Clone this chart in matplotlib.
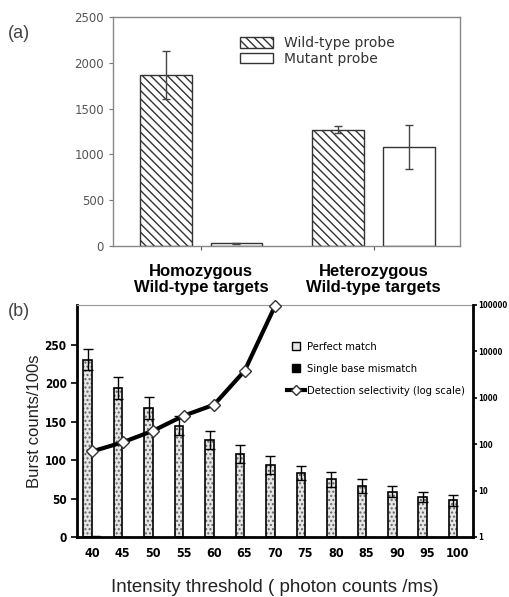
import matplotlib.pyplot as plt
from matplotlib.lines import Line2D
from matplotlib import font_manager
import numpy as np

# panel (a)
grupos_a = ['Homozygous\nWild-type targets', 'Heterozygous\nWild-type targets']
wt_probe = [1870, 1270]
wt_err = [260, 40]
mut_probe = [30, 1080]
mut_err = [8, 240]

# panel (b)
umbrales = [40, 45, 50, 55, 60, 65, 70, 75, 80, 85, 90, 95, 100]
perfect = [231, 194, 168, 145, 126, 108, 94, 83, 75, 66, 59, 52, 48]
perfect_err = [14, 14, 14, 12, 12, 12, 12, 9, 10, 9, 7, 7, 7]
mismatch = [1, 0, 0, 0, 0, 0, 0, 0, 0, 0, 0, 0, 0]
selectividad = [70, 110, 195, 410, 710, 3800, 95000]

W, H = 509, 597
fig = plt.figure(figsize=(W / 100, H / 100), dpi=100)
sans = ['Liberation Sans', 'DejaVu Sans']

def estrecha(size, bold=True):
    return font_manager.FontProperties(family='DejaVu Sans', stretch='condensed',
                                       weight='bold' if bold else 'normal',
                                       size=size)

# ---------- (a) ----------
ax1 = fig.add_axes([113 / W, 1 - 246 / H, (460 - 113) / W, (246 - 17) / H])
x = np.arange(len(grupos_a))
ax1.bar(x - 0.205, wt_probe, 0.30, color='white', edgecolor='#333333',
        hatch='\\\\\\\\', linewidth=1, label='Wild-type probe')
ax1.bar(x + 0.205, mut_probe, 0.30, color='white', edgecolor='#333333',
        linewidth=1, label='Mutant probe')
ax1.errorbar(x - 0.205, wt_probe, yerr=wt_err, fmt='none', ecolor='#444444',
             elinewidth=1, capsize=3)
ax1.errorbar(x + 0.205, mut_probe, yerr=mut_err, fmt='none', ecolor='#444444',
             elinewidth=1, capsize=3)
ax1.set_xlim(-0.51, 1.50)
ax1.set_ylim(0, 2500)
ax1.set_yticks(range(0, 2501, 500))
ax1.tick_params(axis='y', labelsize=8.5, labelcolor='#555555', color='#777777',
                length=3)
ax1.set_xticks(x)
ax1.set_xticklabels(grupos_a, fontsize=12, fontweight='bold', family=sans,
                    linespacing=1.1)
ax1.tick_params(axis='x', color='#555555', length=3, pad=10)
for s in ax1.spines.values():
    s.set_color('#888888')
    s.set_linewidth(1)
ax1.legend(loc='upper left', bbox_to_anchor=(0.33, 0.97), frameon=False,
           fontsize=10, handlelength=2.4, handleheight=0.8, labelspacing=0.1,
           handletextpad=0.8, labelcolor='#333333')
fig.text(8 / W, 1 - 33 / H, '(a)', fontsize=13, color='#444444', va='center',
         family=sans)

# ---------- (b) ----------
ax2 = fig.add_axes([77 / W, 1 - 537 / H, (473 - 77) / W, (537 - 305) / H])
xb = np.arange(len(umbrales))
ax2.bar(xb - 0.15, perfect, 0.28, color='#e6e6e6', edgecolor='#666666',
        hatch='....', linewidth=0)
ax2.bar(xb - 0.15, perfect, 0.28, color='none', edgecolor='black', linewidth=1.2)
ax2.bar(xb + 0.13, mismatch, 0.28, color='black', edgecolor='black', linewidth=1)
ax2.errorbar(xb - 0.15, perfect, yerr=perfect_err, fmt='none', ecolor='black',
             elinewidth=1, capsize=3.5)
ax2.set_xlim(-0.5, len(umbrales) - 0.5)
ax2.set_ylim(0, 302)
ax2.set_yticks(range(0, 251, 50))
ax2.set_xticks(xb)
ax2.set_xticklabels([str(u) for u in umbrales])
ax2.set_xticks(np.arange(len(umbrales) + 1) - 0.5, minor=True)
ax2.tick_params(axis='x', which='major', length=0, pad=7)
ax2.tick_params(axis='x', which='minor', length=5, width=1.2, direction='out')
ax2.tick_params(axis='y', length=4, width=1.2)
for lab in ax2.get_xticklabels():
    lab.set_fontproperties(estrecha(9))
for lab in ax2.get_yticklabels():
    lab.set_fontproperties(estrecha(8.5))
ax2.spines['left'].set_linewidth(2)
ax2.spines['bottom'].set_linewidth(2)
ax2.spines['top'].set_color('#999999')
ax2.spines['top'].set_linewidth(0.8)
ax2.spines['right'].set_visible(False)
ax2.set_ylabel('Burst counts/100s', fontsize=12, family=sans, color='#222222',
               labelpad=2)
ax2.set_xlabel('Intensity threshold ( photon counts /ms)', fontsize=13.5,
               family=sans, color='#222222', labelpad=14)

ax2r = ax2.twinx()
ax2r.plot(xb[:len(selectividad)], selectividad, '-', color='black', lw=3,
          marker='D', markersize=6, markerfacecolor='white',
          markeredgecolor='#333333', markeredgewidth=1, clip_on=False)
ax2r.set_yscale('log')
ax2r.set_ylim(1, 100000)
ax2r.set_yticks([1, 10, 100, 1000, 10000, 100000])
ax2r.set_yticklabels(['1', '10', '100', '1000', '10000', '100000'])
ax2r.minorticks_off()
ax2r.tick_params(axis='y', length=3, width=1.2, pad=1)
for lab in ax2r.get_yticklabels():
    lab.set_fontproperties(estrecha(5.6))
ax2r.spines['right'].set_linewidth(2)
for k in ['left', 'top', 'bottom']:
    ax2r.spines[k].set_visible(False)

handles = [
    Line2D([], [], linestyle='none', marker='s', markersize=6,
           markerfacecolor='#e6e6e6', markeredgecolor='black'),
    Line2D([], [], linestyle='none', marker='s', markersize=6,
           markerfacecolor='black', markeredgecolor='black'),
    Line2D([], [], color='black', lw=3, marker='D', markersize=5,
           markerfacecolor='white', markeredgecolor='#333333'),
]
etiquetas = ['Perfect match', 'Single base mismatch',
             'Detection selectivity (log scale)']
ax2r.legend(handles, etiquetas, loc='upper left', bbox_to_anchor=(0.52, 0.86),
            frameon=False, prop=estrecha(8, bold=False),
            handlelength=1.6, handletextpad=0.2, labelspacing=1.1,
            borderaxespad=0)
fig.text(8 / W, 1 - 311 / H, '(b)', fontsize=13, color='#444444', va='center',
         family=sans)

plt.savefig('out.png', dpi=100)
